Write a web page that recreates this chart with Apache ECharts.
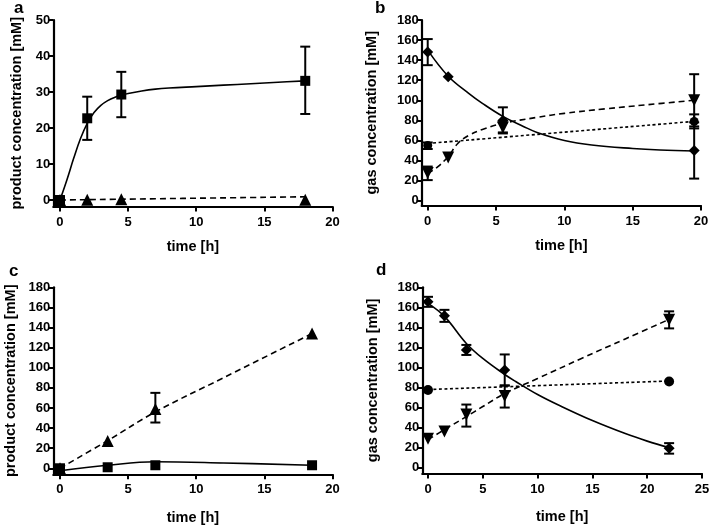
<!DOCTYPE html>
<html><head><meta charset="utf-8">
<script src="https://cdn.jsdelivr.net/npm/echarts@6/dist/echarts.min.js"></script>
<style>html,body{margin:0;padding:0;background:#fff}#c{width:709px;height:525px}</style>
</head><body><div id="c"></div>
<script>
// ---------- tick labels ----------
const xTicks20 = [0, 5, 10, 15, 20];
const xTicks25 = [0, 5, 10, 15, 20, 25];
const yTicksA = [0, 10, 20, 30, 40, 50];
const yTicks180 = [0, 20, 40, 60, 80, 100, 120, 140, 160, 180];

// ---------- panel a (product concentration) ----------
const aSquares = [[0, 0], [2, 22.7], [4.5, 29.3], [18, 33.1]];
const aSquaresErr = [[2, 16.7, 28.7], [4.5, 23.0, 35.6], [18, 23.9, 42.6]];
const aSquaresFit = [[0, 0], [0.5, 5.5], [1, 11.5], [1.5, 17], [2, 21.3], [2.5, 24.3], [3, 26.3], [3.5, 27.6], [4, 28.5], [4.5, 29.1], [5, 29.6], [6, 30.3], [7, 30.8], [8, 31.1], [10, 31.5], [12, 31.9], [14, 32.3], [16, 32.7], [18, 33.1]];
const aTriangles = [[0, 0], [2, 0.1], [4.5, 0.2], [18, 0.1]];
const aTrianglesFit = [[0, 0], [18, 0.9]];

// ---------- panel b (gas concentration) ----------
const bDiamonds = [[0, 148], [1.5, 123.5], [5.5, 80], [19.5, 50]];
const bDiamondsErr = [[0, 135, 161], [5.5, 67, 93], [19.5, 22, 78]];
const bDiamondsFit = [[0, 150], [1.5, 124], [3, 107], [4, 97], [5.5, 84], [7, 74], [8, 68], [10, 60], [12, 55.5], [15, 52], [17, 50.5], [19.5, 49.5]];
const bCircles = [[0, 55], [19.5, 79]];
const bCirclesErr = [[0, 51.5, 58], [19.5, 72, 86]];
const bCirclesFit = [[0, 57], [19.5, 79]];
const bTriangles = [[0, 27.5], [1.5, 43], [5.5, 73], [19.5, 100]];
const bTrianglesErr = [[0, 20.5, 34], [5.5, 68, 78], [19.5, 74, 126]];
const bTrianglesFit = [[0, 27], [0.75, 34], [1.5, 44], [2.2, 57], [3, 65], [4, 71], [5.5, 77], [8, 83], [10, 87], [13, 91.5], [16, 95.5], [19.5, 100]];

// ---------- panel c (product concentration) ----------
const cSquares = [[0, 0], [3.5, 1], [7, 3], [18.5, 3]];
const cSquaresFit = [[0, -2.5], [3.5, 3], [7, 6.5], [12, 5.3], [18.5, 3]];
const cTriangles = [[0, 0], [3.5, 27], [7, 59], [18.5, 134]];
const cTrianglesErr = [[7, 45.5, 75]];
const cTrianglesFit = [[0, 0], [3.5, 27.5], [7, 56], [12, 90], [18.5, 134]];

// ---------- panel d (gas concentration) ----------
const dDiamonds = [[0, 165.5], [1.5, 151.5], [3.5, 117.5], [7, 97.5], [22, 19.5]];
const dDiamondsErr = [[0, 160.5, 170.5], [1.5, 145.5, 157.5], [3.5, 112.5, 122.5], [7, 82, 113], [22, 14, 24.5]];
const dDiamondsFit = [[0, 164], [1.5, 151], [3.5, 124], [5, 109], [7, 93], [8, 86], [10, 73], [12, 62], [15, 47], [18, 34], [20, 26.5], [22, 20]];
const dCircles = [[0, 77.5], [22, 86]];
const dCirclesFit = [[0, 78], [22, 86.5]];
const dTriangles = [[0, 29], [1.5, 36], [3.5, 53], [7, 71.5], [22, 147.5]];
const dTrianglesErr = [[3.5, 41, 63], [7, 60, 82], [22, 139, 156]];
const dTrianglesFit = [[0, 28], [1.5, 38], [3.5, 51], [5, 61], [7, 74], [10, 89], [14, 109], [18, 128.5], [22, 148]];

const F = "'Liberation Sans', Arial, sans-serif";
const BLACK = '#000';

function xAx(gi, min, max, ticks, gap) {
  return {
    type: 'value', gridIndex: gi, min: min, max: max,
    name: 'time [h]', nameLocation: 'middle', nameGap: gap,
    nameTextStyle: { fontFamily: F, fontWeight: 'bold', fontSize: 14.5, color: BLACK },
    axisLine: { show: true, onZero: false, lineStyle: { color: BLACK, width: 2.2 } },
    axisTick: { show: true, customValues: ticks, length: 5, lineStyle: { color: BLACK, width: 2 } },
    axisLabel: { customValues: ticks, fontFamily: F, fontWeight: 'bold', fontSize: 13, color: BLACK, margin: 9 },
    splitLine: { show: false }
  };
}
function yAx(gi, min, max, ticks, name, gap) {
  return {
    type: 'value', gridIndex: gi, min: min, max: max,
    name: name, nameLocation: 'middle', nameGap: gap, nameRotate: 90,
    nameTextStyle: { fontFamily: F, fontWeight: 'bold', fontSize: 14.5, color: BLACK },
    axisLine: { show: true, onZero: false, lineStyle: { color: BLACK, width: 2.2 } },
    axisTick: { show: true, customValues: ticks, length: 5, lineStyle: { color: BLACK, width: 2 } },
    axisLabel: { customValues: ticks, fontFamily: F, fontWeight: 'bold', fontSize: 13, color: BLACK, margin: 3 },
    splitLine: { show: false }
  };
}
function fit(data, gi, dash) {
  return { type: 'line', xAxisIndex: gi, yAxisIndex: gi, data: data, smooth: 0.4, showSymbol: false, silent: true,
    lineStyle: { color: BLACK, width: 1.6, type: dash || 'solid' }, z: 2 };
}
function marks(data, gi, symbol, size, rot) {
  return { type: 'scatter', xAxisIndex: gi, yAxisIndex: gi, data: data, symbol: symbol, symbolSize: size,
    symbolRotate: rot || 0, itemStyle: { color: BLACK, opacity: 1 }, z: 4 };
}
function errs(data, gi) {
  return { type: 'custom', xAxisIndex: gi, yAxisIndex: gi, data: data, encode: { x: 0, y: [1, 2] }, z: 3,
    renderItem: function (params, api) {
      const x = api.value(0);
      const p = api.coord([x, api.value(1)]);
      const q = api.coord([x, api.value(2)]);
      const hw = 5;
      const st = { stroke: BLACK, lineWidth: 2 };
      return { type: 'group', children: [
        { type: 'line', shape: { x1: p[0], y1: p[1], x2: q[0], y2: q[1] }, style: st },
        { type: 'line', shape: { x1: p[0] - hw, y1: p[1], x2: p[0] + hw, y2: p[1] }, style: st },
        { type: 'line', shape: { x1: q[0] - hw, y1: q[1], x2: q[0] + hw, y2: q[1] }, style: st }
      ] };
    } };
}
const LONG = [6, 4], SHORT = [3, 2.5];
const LETTER = "bold 17px 'Liberation Sans', Arial";

const option = {
  animation: false,
  backgroundColor: '#fff',
  grid: [
    { left: 53.3, top: 20, width: 279.2, height: 186.5, outerBoundsMode: 'none' },
    { left: 421.7, top: 20, width: 279.3, height: 185.5, outerBoundsMode: 'none' },
    { left: 53.3, top: 287.3, width: 279.2, height: 187, outerBoundsMode: 'none' },
    { left: 422.3, top: 287.3, width: 279.7, height: 186.2, outerBoundsMode: 'none' }
  ],
  xAxis: [
    xAx(0, -0.49, 20, xTicks20, 33),
    xAx(1, -0.44, 20, xTicks20, 33),
    xAx(2, -0.49, 20, xTicks20, 36),
    xAx(3, -0.52, 25, xTicks25, 36)
  ],
  yAxis: [
    yAx(0, -1.8, 50, yTicksA, 'product concentration [mM]', 29),
    yAx(1, -4.8, 180, yTicks180, 'gas concentration [mM]', 42),
    yAx(2, -6, 180, yTicks180, 'product concentration [mM]', 35),
    yAx(3, -5.8, 180, yTicks180, 'gas concentration [mM]', 42)
  ],
  graphic: [
    { type: 'text', left: 14, top: 0, style: { text: 'a', font: LETTER, fill: BLACK } },
    { type: 'text', left: 375, top: 0, style: { text: 'b', font: LETTER, fill: BLACK } },
    { type: 'text', left: 9, top: 263, style: { text: 'c', font: LETTER, fill: BLACK } },
    { type: 'text', left: 376, top: 262, style: { text: 'd', font: LETTER, fill: BLACK } }
  ],
  series: [
    fit(aSquaresFit, 0), fit(aTrianglesFit, 0, LONG),
    errs(aSquaresErr, 0),
    marks(aSquares, 0, 'rect', 10), marks(aTriangles, 0, 'triangle', 12),

    fit(bDiamondsFit, 1), fit(bCirclesFit, 1, SHORT), fit(bTrianglesFit, 1, LONG),
    errs(bDiamondsErr, 1), errs(bCirclesErr, 1), errs(bTrianglesErr, 1),
    marks(bDiamonds, 1, 'diamond', 11), marks(bCircles, 1, 'circle', 9), marks(bTriangles, 1, 'triangle', 12, 180),

    fit(cSquaresFit, 2), fit(cTrianglesFit, 2, LONG),
    errs(cTrianglesErr, 2),
    marks(cSquares, 2, 'rect', 10), marks(cTriangles, 2, 'triangle', 12),

    fit(dDiamondsFit, 3), fit(dCirclesFit, 3, SHORT), fit(dTrianglesFit, 3, LONG),
    errs(dDiamondsErr, 3), errs(dTrianglesErr, 3),
    marks(dDiamonds, 3, 'diamond', 11), marks(dCircles, 3, 'circle', 10), marks(dTriangles, 3, 'triangle', 12, 180)
  ]
};
const chart = echarts.init(document.getElementById('c'), null, { renderer: 'canvas' });
chart.setOption(option);
</script>
</body></html>
